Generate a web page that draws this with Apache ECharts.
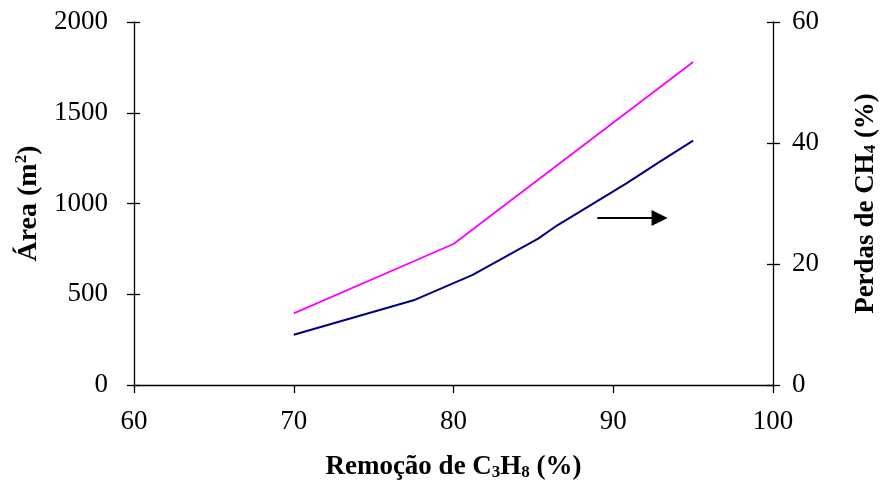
<!DOCTYPE html>
<html>
<head>
<meta charset="utf-8">
<script src="https://cdn.jsdelivr.net/npm/echarts@6/dist/echarts.min.js"></script>
<style>html,body{margin:0;padding:0;background:#fff}#c{width:880px;height:486px}</style>
</head>
<body>
<div id="c"></div>
<script>
// Data
const areaX = [70, 80, 95];
const areaY = [395, 777, 1780];            // Área (m²), left axis
const lossX = [70, 77.5, 81.2, 85.3, 86.5, 90.8, 92.8, 95];
const lossY = [8.3, 14.0, 18.2, 24.2, 26.4, 33.3, 36.7, 40.4]; // Perdas de CH4 (%), right axis
const arrowFrom = [89.0, 27.6];
const arrowTo = [92.9, 27.6];
const xTicks = [60, 70, 80, 90, 100];
const areaTicks = [0, 500, 1000, 1500, 2000];
const lossTicks = [0, 20, 40, 60];

const font = '"Liberation Serif", "Times New Roman", serif';
const chart = echarts.init(document.getElementById('c'), null, {renderer: 'canvas'});
const axisLine = {show: true, lineStyle: {color: '#000', width: 1.3}};
const tickStyle = {color: '#000', width: 1.3};
const lbl = {color: '#000', fontFamily: font, fontSize: 27, formatter: v => String(v)};
const TS = 27, SS = 17;

chart.setOption({
  animation: false,
  backgroundColor: '#fff',
  grid: {left: 134, right: 107, top: 22, bottom: 101, containLabel: false, outerBoundsMode: 'none'},
  xAxis: [
    {
      type: 'value', min: xTicks[0], max: xTicks[xTicks.length - 1], interval: 10, position: 'bottom',
      axisLine: axisLine, axisTick: {show: true, length: 8, lineStyle: tickStyle}, splitLine: {show: false},
      axisLabel: Object.assign({margin: 23}, lbl),
      name: '{a|Remoção de C}{s|3}{a|H}{s|8}{a| (%)}',
      nameLocation: 'middle', nameGap: 69,
      nameTextStyle: {
        rich: {
          a: {fontFamily: font, fontSize: TS, fontWeight: 'bold', color: '#000'},
          s: {fontFamily: font, fontSize: SS, fontWeight: 'bold', color: '#000', verticalAlign: 'bottom', padding: [9, 0, 0, 0]}
        }
      }
    }
  ],
  yAxis: [
    {
      type: 'value', min: areaTicks[0], max: areaTicks[areaTicks.length - 1], interval: 500, position: 'left',
      axisLine: axisLine, axisTick: {show: true, length: 7, lineStyle: tickStyle}, splitLine: {show: false},
      axisLabel: Object.assign({margin: 26}, lbl),
      name: '{a|Área (m}{s|2}{a|)}',
      nameLocation: 'middle', nameRotate: 90, nameGap: 89,
      nameTextStyle: {
        rich: {
          a: {fontFamily: font, fontSize: 28, fontWeight: 'bold', color: '#000'},
          s: {fontFamily: font, fontSize: SS, fontWeight: 'bold', color: '#000', padding: [0, 0, 14, 0]}
        }
      }
    },
    {
      type: 'value', min: lossTicks[0], max: lossTicks[lossTicks.length - 1], interval: 20, position: 'right',
      axisLine: axisLine, axisTick: {show: true, length: 7, lineStyle: tickStyle}, splitLine: {show: false},
      axisLabel: Object.assign({margin: 19}, lbl),
      name: '{a|Perdas de CH}{s|4}{a| (%)}',
      nameLocation: 'middle', nameRotate: 90, nameGap: 80,
      nameTextStyle: {
        rich: {
          a: {fontFamily: font, fontSize: TS, fontWeight: 'bold', color: '#000'},
          s: {fontFamily: font, fontSize: SS, fontWeight: 'bold', color: '#000', padding: [9, 0, 0, 0]}
        }
      }
    },
    {
      type: 'value', min: areaTicks[0], max: areaTicks[areaTicks.length - 1], interval: 500, position: 'left',
      axisLine: {show: false}, axisTick: {show: true, inside: true, length: 6, lineStyle: tickStyle},
      axisLabel: {show: false}, splitLine: {show: false}
    },
    {
      type: 'value', min: lossTicks[0], max: lossTicks[lossTicks.length - 1], interval: 20, position: 'right',
      axisLine: {show: false}, axisTick: {show: true, inside: true, length: 6, lineStyle: tickStyle},
      axisLabel: {show: false}, splitLine: {show: false}
    }
  ],
  series: [
    {
      type: 'line', yAxisIndex: 0, symbol: 'none',
      data: areaX.map((x, i) => [x, areaY[i]]),
      lineStyle: {color: '#FF00FF', width: 1.8}
    },
    {
      type: 'line', yAxisIndex: 1, symbol: 'none',
      data: lossX.map((x, i) => [x, lossY[i]]),
      lineStyle: {color: '#000080', width: 2},
      markLine: {
        silent: true, animation: false,
        symbol: ['none', 'triangle'], symbolSize: [16, 16],
        label: {show: false},
        lineStyle: {color: '#000', width: 2, type: 'solid'},
        itemStyle: {color: '#000'},
        data: [[{coord: arrowFrom}, {coord: arrowTo}]]
      }
    }
  ]
});
</script>
</body>
</html>
